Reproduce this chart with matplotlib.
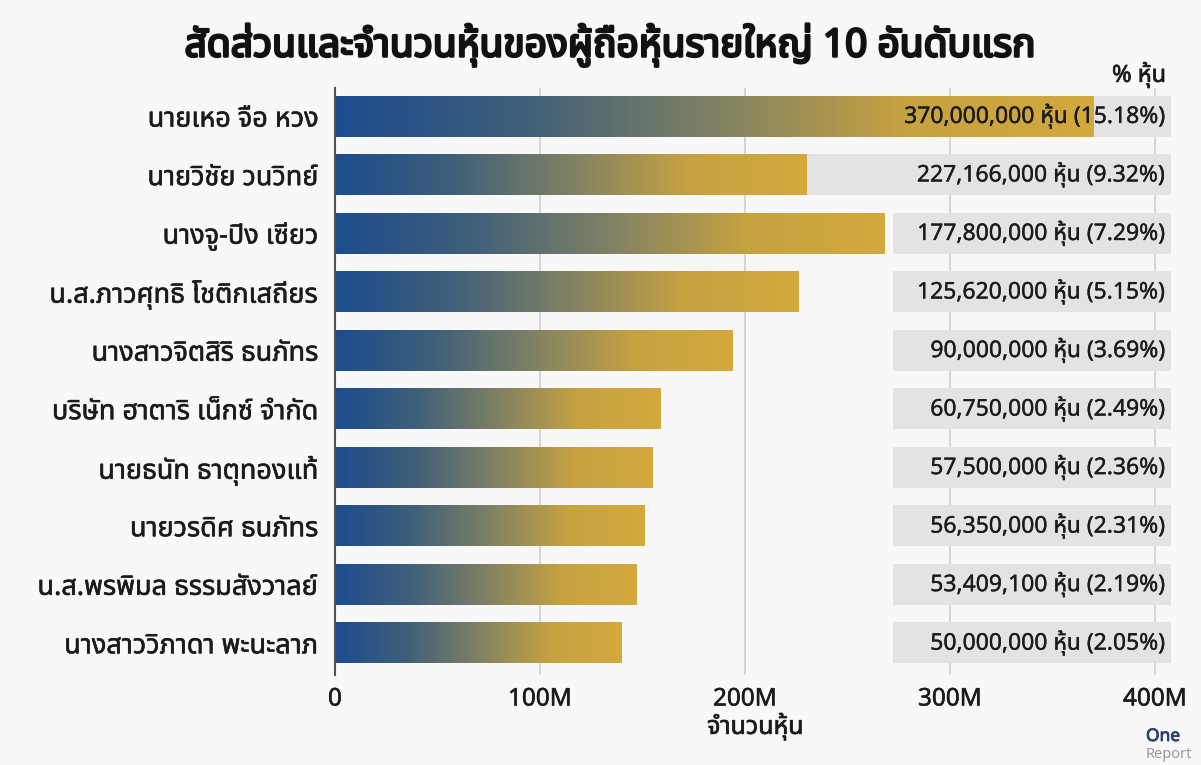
import numpy as np
import matplotlib
matplotlib.use("Agg")
import matplotlib.pyplot as plt
import matplotlib.patheffects as pe
from matplotlib import font_manager
from matplotlib.ft2font import FT2Font
from matplotlib.colors import LinearSegmentedColormap
from matplotlib.ticker import FuncFormatter

names = ["นายเหอ จือ หวง", "นายวิชัย วนวิทย์", "นางจู-ปิง เซียว",
         "น.ส.ภาวศุทธิ โชติกเสถียร", "นางสาวจิตสิริ ธนภัทร",
         "บริษัท ฮาตาริ เน็กซ์ จำกัด", "นายธนัท ธาตุทองแท้",
         "นายวรดิศ ธนภัทร", "น.ส.พรพิมล ธรรมสังวาลย์", "นางสาววิภาดา พะนะลาภ"]
shares = [370000000, 227166000, 177800000, 125620000, 90000000,
          60750000, 57500000, 56350000, 53409100, 50000000]
pct = [15.18, 9.32, 7.29, 5.15, 3.69, 2.49, 2.36, 2.31, 2.19, 2.05]
# bar lengths as drawn in the picture (millions of shares)
bar_len = [370, 230, 268, 226, 194, 159, 155, 151, 147, 140]
# grey label box start (millions)
box_start = [370, 230, 272, 272, 272, 272, 272, 272, 272, 272]
box_end = 408
ticks = [0, 100, 200, 300, 400]


def thai_font():
    prefer = ["Noto Sans Thai", "Noto Sans Thai UI", "Sarabun", "Loma", "Garuda",
              "Waree", "Umpush", "Kinnari", "Norasi", "Tlwg Typo"]
    found = {}
    for f in font_manager.fontManager.ttflist:
        try:
            if 0x0E01 in FT2Font(f.fname).get_charmap():
                found[f.name] = f.fname
        except Exception:
            pass
    for p in prefer:
        if p in found:
            return p
    return sorted(found)[0] if found else None


tf = thai_font()
fams = ([tf] if tf else []) + ["DejaVu Sans"]
plt.rcParams["font.family"] = fams

blue_gold = LinearSegmentedColormap.from_list(
    "bg", ["#1d4c8e", "#3f6079", "#7f8163", "#c6a242", "#d4a93d"])

ink = "#1b1b1b"
fig = plt.figure(figsize=(12.01, 7.65), dpi=100, facecolor="#f8f8f8")
ax = fig.add_axes([335 / 1201, 90 / 765, 840.5 / 1201, 587 / 765])
ax.set_facecolor("#f8f8f8")

y = np.arange(len(names))
h = 0.70
grad = np.linspace(0, 1, 256).reshape(1, -1)
for i in y:
    ax.imshow(grad, cmap=blue_gold, aspect="auto", zorder=3,
              extent=(0, bar_len[i], i + h / 2, i - h / 2))
    ax.barh(i, box_end - box_start[i], left=box_start[i], height=h,
            color="#e3e3e3", zorder=2)
    ax.text(405, i, f"{shares[i]:,} หุ้น ({pct[i]:.2f}%)", ha="right",
            va="center", fontsize=16.5, color=ink, zorder=4,
            path_effects=[pe.withStroke(linewidth=0.25, foreground=ink)])

ax.set_xlim(0, 410)
ax.set_ylim(len(names) - 1 + 0.55, -0.48)
ax.set_xticks(ticks)
ax.xaxis.set_major_formatter(FuncFormatter(lambda v, p: "0" if v == 0 else f"{v:.0f}M"))
ax.set_yticks(y)
ax.set_yticklabels(names)
ax.tick_params(axis="y", length=0, pad=12, labelsize=19.5, labelcolor=ink)
ax.tick_params(axis="x", length=0, pad=9, labelsize=17.5, labelcolor=ink)
for lab in ax.get_xticklabels() + ax.get_yticklabels():
    lab.set_path_effects([pe.withStroke(linewidth=0.4, foreground=ink)])
for v in ticks[1:]:
    ax.axvline(v, color="#cfcfcf", lw=1.2, zorder=1)
for s in ["top", "right", "bottom"]:
    ax.spines[s].set_visible(False)
ax.spines["left"].set_color("#555555")
ax.spines["left"].set_linewidth(1.5)
ax.spines["left"].set_zorder(5)
ax.set_xlabel("จำนวนหุ้น", fontsize=18, labelpad=1, color=ink,
              path_effects=[pe.withStroke(linewidth=0.5, foreground=ink)])

fig.text(0.508, 720 / 765, "สัดส่วนและจำนวนหุ้นของผู้ถือหุ้นรายใหญ่ 10 อันดับแรก",
         ha="center", va="center", fontsize=28, fontweight="bold", color="#111111",
         path_effects=[pe.withStroke(linewidth=1.8, foreground="#111111")])
fig.text(1166 / 1201, 690 / 765, "% หุ้น", ha="right", va="center",
         fontsize=17, color=ink,
         path_effects=[pe.withStroke(linewidth=0.5, foreground=ink)])
fig.text(1146 / 1201, 29 / 765, "One", ha="left", va="center", fontsize=12.5,
         fontweight="bold", color="#2b3f6b",
         path_effects=[pe.withStroke(linewidth=0.6, foreground="#2b3f6b")])
fig.text(1146 / 1201, 11 / 765, "Report", ha="left", va="center", fontsize=10.5,
         color="#9a9a9a")

fig.savefig("out.png", dpi=100, facecolor=fig.get_facecolor())
